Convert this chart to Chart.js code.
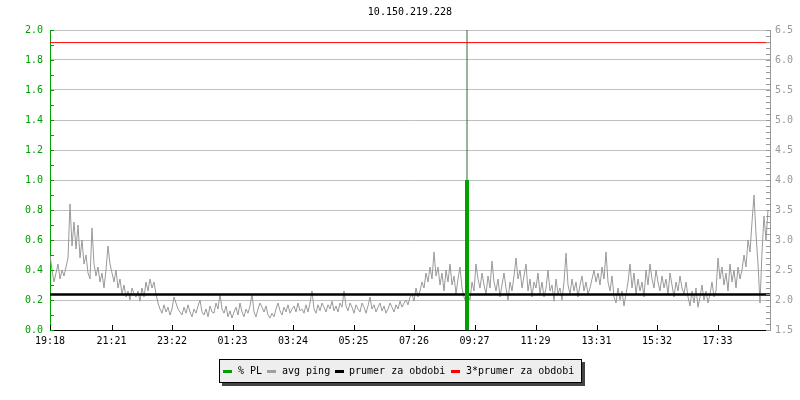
<!DOCTYPE html>
<html>
<head>
<meta charset="utf-8">
<script src="https://cdn.jsdelivr.net/npm/chart.js@4.4.0/dist/chart.umd.min.js"></script>
<style>
html,body{margin:0;padding:0;background:#fff;}
#wrap{position:relative;width:800px;height:400px;overflow:hidden;}
#c{position:absolute;left:0;top:0;}
.t{position:absolute;font-family:"DejaVu Sans Mono",monospace;font-size:10px;line-height:12px;color:#000;white-space:pre;}
#legend{position:absolute;left:219px;top:359px;width:361px;height:22px;background:#eeeeee;border:1px solid #000;box-shadow:3px 3px 0 #444;}
.sw{position:absolute;height:3px;width:9px;}
</style>
</head>
<body>
<div id="wrap">
<canvas id="c" width="800" height="400"></canvas>
<div class="t" style="left:0;width:820px;text-align:center;top:6px;">10.150.219.228</div>
<div id="legend"></div>
</div>
<script>
// ---- data ----
const tickLabels = ["19:18","21:21","23:22","01:23","03:24","05:25","07:26","09:27","11:29","13:31","15:32","17:33"];
const tickMinutes = [0,123,244,365,486,607,728,849,971,1093,1214,1335];
const sampleStepMin = 4;
// avg ping (ms), right axis, one value every 4 minutes from 19:18
const pingValues = [
2.75,2.5,2.3,2.45, 2.6,2.35,2.5,2.4, 2.55,2.7, 3.6, 2.9,3.3,2.85, 3.25,2.7, 3.0,2.6,2.75,2.45,
2.35,3.2, 2.6,2.4,2.55,2.3,2.45,2.2,2.5, 2.9, 2.6,2.45,2.3,2.5,2.2,2.35,
2.1,2.25,2.05,2.15,2.0,2.2,2.1,2.05,2.15,1.98, 2.2,2.05,2.3,2.15,2.35,2.2,2.3,2.1,
1.95,1.85,1.78,1.92,1.8,1.88,1.75,1.85, 2.05,1.95,1.85, 1.8,1.75,1.88,1.78,1.92,1.8,1.72,1.85,1.78,
1.9,2.0,1.8,1.75,1.85,1.72,1.9,1.8,1.78,1.95,1.85, 2.1,1.85,
1.78,1.9,1.72,1.82,1.7,1.8,1.88,1.75,1.95,1.8,1.72,1.85,1.78,1.9,2.1,1.8,
1.72,1.85,1.95,1.88,1.8,1.9,1.75,1.7,1.78,1.72,1.85,1.95,1.82,1.75,1.88,1.8,1.92,1.78,1.85,1.9,1.8,1.95,1.82,
1.85,1.78,1.92,1.8,1.95,2.15,
1.85,1.78,1.92,1.82,1.95,1.88,1.8,1.92,1.85,1.98,1.82,1.9,1.8,1.95,1.88, 2.15,
1.9,1.82,1.95,1.88,1.78,1.92,1.85,1.8,1.95,1.88,1.78,1.9,2.05,1.85,1.92,1.8,1.88,1.95,1.82,1.9,
1.78,1.85,1.95,1.88,1.8,1.92,1.85,1.98,1.88,1.95,2.0,1.92,2.05,
2.1,1.98,2.2,2.05,2.15,2.3, 2.2,2.45,2.3,2.55,2.35,2.8,2.4,
2.55,2.25,2.45,2.15,2.5,2.3,2.6,2.25,2.4,2.1,2.35,2.55,2.2, 2.05,1.95,2.1,2.0,
2.3,2.15,2.6,2.35,2.2,2.45,2.25,2.1,2.4,2.2,2.65,2.3,2.15,
2.35,2.05,2.25,2.45,2.2,2.0,2.3,2.15,2.4,2.7,
2.35,2.5,2.2,2.4,2.6,2.15,2.35,2.05,2.3,2.2,2.45,2.1,
2.3,2.05,2.2,2.5,2.15,2.25,1.98,2.35,2.1,2.2,2.0,2.3, 2.78,
2.25,2.1,2.35,2.15,2.3,2.05,2.25,2.4,2.15,2.3,2.1,2.2,2.35,
2.5,2.3,2.45,2.25,2.55,2.35, 2.8,
2.3,2.15,2.4,2.05,1.95,2.2,2.0,2.15,1.9,2.1,
2.3,2.6,2.2,2.45,2.1,2.35,2.15,2.3,2.05,
2.5,2.25,2.6,2.35,2.2,2.5,2.3,2.15,2.4,
2.2,2.35,2.1,2.45,2.25,2.05,2.3,2.15,2.4,2.2,2.1,2.3,
2.05,1.9,2.15,1.95,2.2,1.88,2.05,2.25,2.0,2.15,1.95,2.1,2.3,2.05,2.15,
2.7,2.35,2.55,2.25,2.45,2.15,2.6,2.3,2.5,2.2,
2.55,2.35,2.5, 2.75,2.55,3.0,2.8,3.3, 3.75, 3.1,2.6, 1.95, 2.8,3.4,3.0,3.5
];
const avgPing = 2.09;        // "prumer za obdobi"
const tripleAvgPing = 6.29;  // "3*prumer za obdobi"
// % PL (left axis)
const plMinutes = [834];
const plValues = [1.0];
const plPeakValues = [2.0];

const GREEN = "#00a000", GRAY = "#999999", GRID = "#c0c0c0";
const FONT = {family: "'DejaVu Sans Mono', monospace", size: 10};

// legend (HTML)
const legendItems = [
  {label: "% PL", color: GREEN, sx: 3, tx: 18},
  {label: "avg ping", color: "#a0a0a0", sx: 47, tx: 62},
  {label: "prumer za obdobi", color: "#000000", sx: 115, tx: 129},
  {label: "3*prumer za obdobi", color: "#ff0000", sx: 231, tx: 246}
];
const lg = document.getElementById('legend');
legendItems.forEach(it => {
  const s = document.createElement('div');
  s.className = 'sw'; s.style.left = it.sx + 'px'; s.style.top = '10px'; s.style.background = it.color;
  lg.appendChild(s);
  const t = document.createElement('div');
  t.className = 't'; t.style.left = it.tx + 'px'; t.style.top = '5px'; t.textContent = it.label;
  lg.appendChild(t);
});

const pingData = pingValues.map((v, i) => ({x: i * sampleStepMin, y: v}));
const xMax = 1440;

const tickPlugin = {
  id: 'inwardTicks',
  afterDatasetsDraw(chart) {
    const ctx = chart.ctx;
    const sx = chart.scales.x, sy = chart.scales.y, s2 = chart.scales.y2;
    ctx.save();
    ctx.lineWidth = 1;
    ctx.strokeStyle = GREEN;
    for (let k = 0; k <= 20; k++) {
      const y = Math.round(sy.getPixelForValue(k / 10)) + 0.5;
      ctx.beginPath(); ctx.moveTo(sy.right, y); ctx.lineTo(sy.right + 4, y); ctx.stroke();
    }
    ctx.strokeStyle = GRAY;
    for (let k = 15; k <= 65; k++) {
      const y = Math.round(s2.getPixelForValue(k / 10)) + 0.5;
      ctx.beginPath(); ctx.moveTo(s2.left, y); ctx.lineTo(s2.left - 4, y); ctx.stroke();
    }
    ctx.strokeStyle = "#000";
    tickMinutes.forEach(m => {
      const x = Math.round(sx.getPixelForValue(m)) + 0.5;
      ctx.beginPath(); ctx.moveTo(x, sx.top); ctx.lineTo(x, sx.top - 5); ctx.stroke();
    });
    ctx.restore();
  }
};

new Chart(document.getElementById('c'), {
  type: 'line',
  data: {
    datasets: [
      {label: '% PL', yAxisID: 'y', data: plMinutes.map((m, i) => [{x: m, y: 0}, {x: m, y: plValues[i]}]).flat(),
       borderColor: GREEN, borderWidth: 4, pointRadius: 0, borderCapStyle: 'butt'},
      {label: '3*prumer za obdobi', yAxisID: 'y2', data: [{x: 0, y: tripleAvgPing}, {x: xMax, y: tripleAvgPing}],
       borderColor: '#ff0000', borderWidth: 1, pointRadius: 0},
      {label: 'prumer za obdobi', yAxisID: 'y2', data: [{x: 0, y: avgPing}, {x: xMax, y: avgPing}],
       borderColor: '#000000', borderWidth: 2.5, pointRadius: 0},
      {label: 'avg ping', yAxisID: 'y2', data: pingData,
       borderColor: GRAY, borderWidth: 1, pointRadius: 0, tension: 0},
      {label: '% PL peak', yAxisID: 'y', data: plMinutes.map((m, i) => [{x: m, y: 0}, {x: m, y: plPeakValues[i]}]).flat(),
       borderColor: '#2e6b2e', borderWidth: 1, pointRadius: 0}
    ]
  },
  options: {
    responsive: false,
    animation: false,
    devicePixelRatio: 1,
    layout: {padding: {top: 30, left: 0, right: 0, bottom: 0}},
    plugins: {legend: {display: false}, tooltip: {enabled: false}, title: {display: false}},
    scales: {
      x: {
        type: 'linear', min: 0, max: xMax, position: 'bottom',
        afterBuildTicks: s => { s.ticks = tickMinutes.map(v => ({value: v})); },
        afterFit: s => { s.height = 70; },
        grid: {drawOnChartArea: false, drawTicks: false},
        border: {color: '#000', width: 1},
        ticks: {autoSkip: false, maxRotation: 0, color: '#000', font: FONT, padding: 5,
                callback: (v, i) => tickLabels[i]}
      },
      y: {
        position: 'left', min: 0, max: 2,
        afterFit: s => { s.width = 50; },
        grid: {color: GRID, drawTicks: false},
        border: {color: GREEN, width: 1},
        ticks: {stepSize: 0.2, color: GREEN, font: FONT, padding: 7, callback: v => v.toFixed(1)}
      },
      y2: {
        position: 'right', min: 1.5, max: 6.5,
        afterFit: s => { s.width = 30; },
        grid: {drawOnChartArea: false, drawTicks: false},
        border: {color: GRAY, width: 1},
        ticks: {stepSize: 0.5, color: GRAY, font: FONT, padding: 5, callback: v => v.toFixed(1)}
      }
    }
  },
  plugins: [tickPlugin]
});
</script>
</body>
</html>
